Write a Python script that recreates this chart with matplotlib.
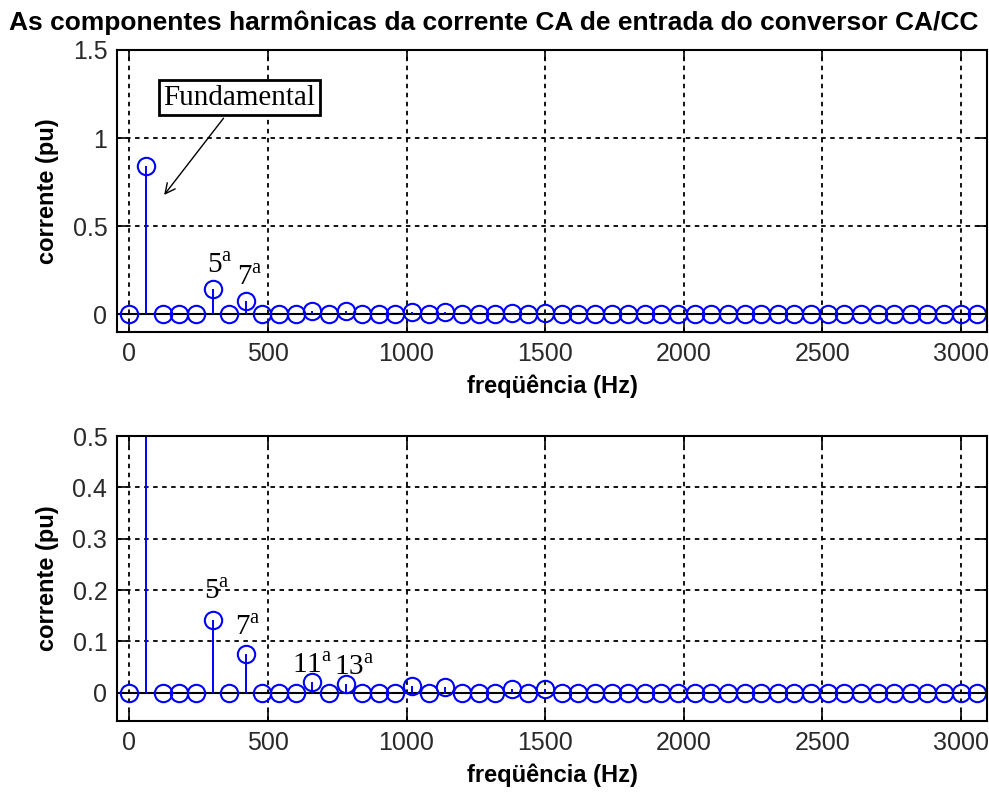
import matplotlib.pyplot as plt
import numpy as np

plt.rcParams['font.family'] = 'Liberation Sans'
plt.rcParams['mathtext.fontset'] = 'custom'
plt.rcParams['mathtext.rm'] = 'Liberation Serif'

# harmonic spectrum of the input AC current (60 Hz steps)
freq = [0, 60, 120, 180, 240, 300, 360, 420, 480, 540,
        600, 660, 720, 780, 840, 900, 960, 1020, 1080, 1140,
        1200, 1260, 1320, 1380, 1440, 1500, 1560, 1620, 1680, 1740,
        1800, 1860, 1920, 1980, 2040, 2100, 2160, 2220, 2280, 2340,
        2400, 2460, 2520, 2580, 2640, 2700, 2760, 2820, 2880, 2940,
        3000, 3060]
amp = [0, 0.84, 0, 0, 0, 0.142, 0, 0.076, 0, 0,
       0, 0.021, 0, 0.017, 0, 0, 0, 0.013, 0, 0.012,
       0, 0, 0, 0.008, 0, 0.008, 0, 0, 0, 0,
       0, 0, 0, 0, 0, 0, 0, 0, 0, 0,
       0, 0, 0, 0, 0, 0, 0, 0, 0, 0,
       0, 0]

xticks = [0, 500, 1000, 1500, 2000, 2500, 3000]
yticks_top = [0, 0.5, 1, 1.5]
ylabels_top = ['0', '0.5', '1', '1.5']
yticks_bot = [0, 0.1, 0.2, 0.3, 0.4, 0.5]
ylabels_bot = ['0', '0.1', '0.2', '0.3', '0.4', '0.5']

# harmonic labels: (text, freq, value) for each panel
labels_top = [('5', 325, 0.275), ('7', 433, 0.21)]
labels_bot = [('5', 314, 0.196), ('7', 426, 0.127), ('11', 660, 0.0525), ('13', 812, 0.049)]

fig = plt.figure(figsize=(9.89, 7.92), dpi=100)
ax1 = fig.add_axes([117/989, 1 - 332/792, 870/989, 282/792])
ax2 = fig.add_axes([117/989, 1 - 721/792, 870/989, 285/792])


def draw(ax, ylim, yticks, ylabels, labels):
    ml, sl, bl = ax.stem(freq, amp, linefmt='b-', markerfmt='bo')
    ml.set_markerfacecolor('none')
    ml.set_markersize(12.5)
    ml.set_markeredgewidth(1.5)
    sl.set_linewidth(1.4)
    bl.set_visible(False)
    ax.axhline(0, color='k', lw=1.5, zorder=1)
    ax.set_xlim(-45, 3095)
    ax.set_ylim(*ylim)
    ax.set_xticks(xticks)
    ax.set_yticks(yticks)
    ax.set_yticklabels(ylabels)
    ax.grid(True, color='k', linestyle=(0, (2.5, 2.5)), linewidth=1.3)
    ax.set_axisbelow(True)
    ax.tick_params(direction='in', length=7, width=1.2, top=True, right=True,
                   labelsize=18, pad=7, labelcolor='#2a2a2a')
    for s in ax.spines.values():
        s.set_linewidth(1.5)
    ax.set_xlabel('freqüência (Hz)', fontsize=17, fontweight='bold', labelpad=6)
    ax.set_ylabel('corrente (pu)', fontsize=17, fontweight='bold', labelpad=10)
    for t, x, y in labels:
        ax.text(x, y, t + r'$^{\mathrm{a}}$', fontsize=21, family='Liberation Serif',
                ha='center', va='center')


draw(ax1, (-0.1, 1.5), yticks_top, ylabels_top, labels_top)
draw(ax2, (-0.055, 0.5), yticks_bot, ylabels_bot, labels_bot)

ax1.annotate('Fundamental', xy=(119, 0.665), xytext=(397, 1.23),
             fontsize=21, family='Liberation Serif', ha='center', va='center',
             bbox=dict(boxstyle='square,pad=0.15', fc='white', ec='k', lw=2),
             arrowprops=dict(arrowstyle='->', color='k', lw=1, mutation_scale=18))

fig.text(494/989, 1 - 30/792, 'As componentes harmônicas da corrente CA de entrada do conversor CA/CC',
         ha='center', va='baseline', fontsize=19, fontweight='bold')

fig.savefig('out.png', dpi=100)
